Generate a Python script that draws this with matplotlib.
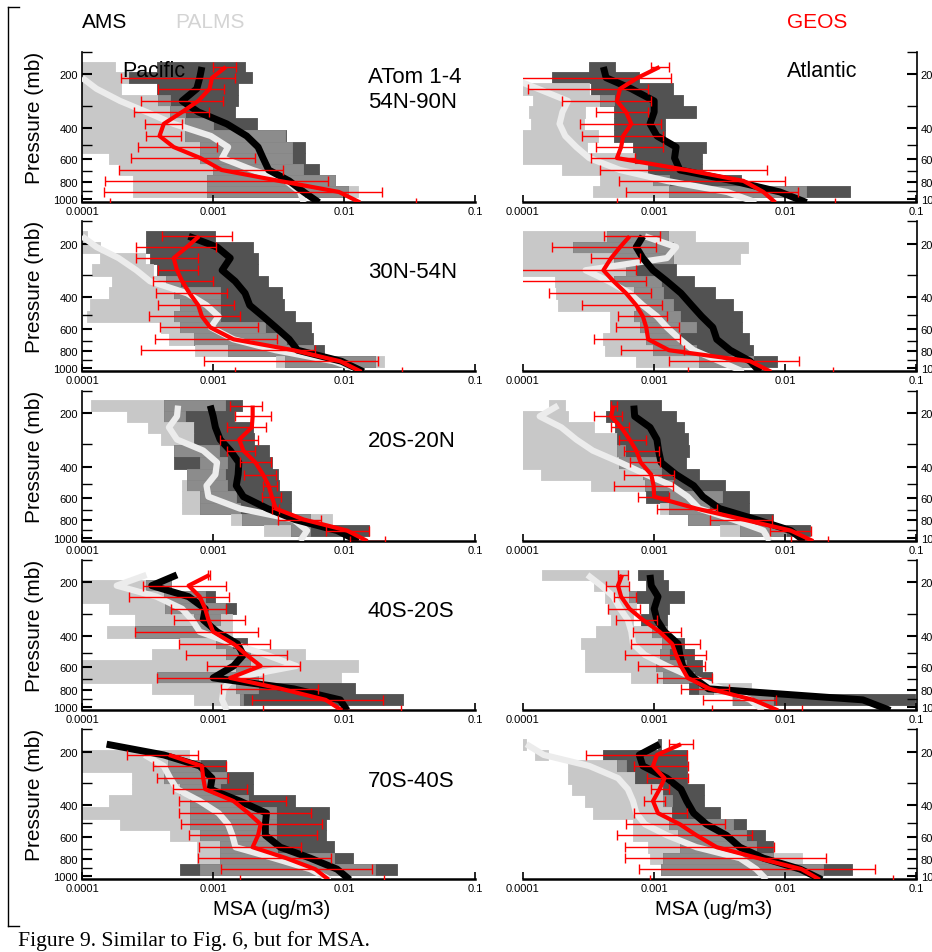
import numpy as np
import matplotlib
matplotlib.use('Agg')
import matplotlib.pyplot as plt
from matplotlib.lines import Line2D
from matplotlib.ticker import NullLocator, FixedLocator, NullFormatter

nan = np.nan

# pressure (mb) of the 12 bins; the 13th value is the surface end of the profiles
levels = [182, 209, 241, 282, 325, 379, 443, 511, 589, 687, 791, 912, 1045]

regions = ['ATom 1-4\n54N-90N', '30N-54N', '20S-20N', '40S-20S', '70S-40S']
x_ticks = [0.0001, 0.001, 0.01, 0.1]
x_labels = ['0.0001', '0.001', '0.01', '0.1']
p_ticks = [200, 400, 600, 800, 1000]
p_minor = [150, 300, 500, 700, 900]

# ---- Pacific 54N-90N
p1_ams_lo = [3.7e-4, 2.3e-4, 3.7e-4, 3.8e-4, 4.7e-4, 6.1e-4, 6.1e-4, 7.9e-4, 7.9e-4, 1.0e-3, 8.9e-4, 8.9e-4]
p1_ams_hi = [1.75e-3, 1.97e-3, 1.55e-3, 1.55e-3, 1.47e-3, 2.15e-3, 3.6e-3, 5.0e-3, 5.0e-3, 6.4e-3, 8.5e-3, 1.07e-2]
p1_pal_lo = [9e-5, 9e-5, 9e-5, 9e-5, 9e-5, 9e-5, 9e-5, 9e-5, 1.6e-4, 1.95e-4, 2.45e-4, 2.45e-4]
p1_pal_hi = [1.8e-4, 2.3e-4, 2.0e-4, 4.7e-4, 6.1e-4, 1.0e-3, 3.5e-3, 4.0e-3, 4.0e-3, 4.8e-3, 8.5e-3, 1.28e-2]
p1_ams = [8.2e-4, 7.9e-4, 7.5e-4, 5.8e-4, 7.7e-4, 1.27e-3, 1.8e-3, 2.2e-3, 2.4e-3, 2.65e-3, 3.8e-3, 4.9e-3, 6.4e-3]
p1_pal = [nan, 1.0e-4, 1.29e-4, 1.95e-4, 3.1e-4, 5.0e-4, 9.6e-4, 1.3e-3, 1.17e-3, 2.0e-3, 3.6e-3, 4.6e-3, 4.9e-3]
p1_geos = [1.25e-3, 9.8e-4, 9.4e-4, 7.7e-4, 5.8e-4, 4.2e-4, 3.9e-4, 5.0e-4, 8.0e-4, 1.16e-3, 3.2e-3, 9.1e-3, 1.32e-2]
p1_geos_lo = [1.0e-3, 2.0e-4, 3.8e-4, 2.8e-4, 2.5e-4, 3.0e-4, 3.1e-4, 2.65e-4, 2.35e-4, 1.9e-4, 1.5e-4, 1.48e-4, 1.63e-4]
p1_geos_hi = [1.5e-3, 1.47e-3, 1.22e-3, 1.18e-3, 9.3e-4, 5.8e-4, 5.7e-4, 1.07e-3, 2.07e-3, 3.4e-3, 7.5e-3, 1.95e-2, 3.5e-2]

# ---- Atlantic 54N-90N
a1_ams_lo = [3.2e-4, 1.65e-4, 3.3e-4, 3.85e-4, 4.9e-4, 4.9e-4, 4.9e-4, 6.9e-4, 7.1e-4, 9.0e-4, 9.8e-4, 1.3e-3]
a1_ams_hi = [5.0e-4, 7.6e-4, 1.4e-3, 1.65e-3, 2.1e-3, 1.2e-3, 1.2e-3, 2.5e-3, 2.3e-3, 2.3e-3, 4.6e-3, 3.1e-2]
a1_pal_lo = [nan, nan, 9e-5, 1.19e-4, 1.12e-4, 1.15e-4, 9e-5, 9e-5, 9e-5, 1.97e-4, 3.85e-4, 3.4e-4]
a1_pal_hi = [nan, nan, 3.2e-4, 4.9e-4, 2.95e-4, 2.9e-4, 3.75e-4, 3.05e-4, 7.1e-4, 9.0e-4, 1.3e-3, 1.44e-2]
a1_ams = [4.1e-4, 4.3e-4, 6.7e-4, 1.0e-3, 1.0e-3, 9.3e-4, 1.05e-3, 1.47e-3, 1.43e-3, 1.57e-3, 4.0e-3, 9.1e-3, 1.45e-2]
a1_pal = [nan, 8e-5, 1.3e-4, 2.2e-4, 2.0e-4, 1.9e-4, 2.1e-4, 2.55e-4, 3.2e-4, 5.5e-4, 1.25e-3, 3.6e-3, 6.0e-3]
a1_geos = [1.1e-3, 7.5e-4, 5.5e-4, 5.2e-4, 6.1e-4, 6.7e-4, 5.8e-4, 5.6e-4, 5.2e-4, 1.77e-3, 4.8e-3, 6.8e-3, 8.4e-3]
a1_geos_lo = [9.5e-4, 9e-5, 1.09e-4, 2.0e-4, 3.6e-4, 2.7e-4, 2.8e-4, 3.6e-4, 3.3e-4, 3.85e-4, 5.4e-4, 6.1e-4, 5.2e-4]
a1_geos_hi = [1.29e-3, 1.35e-3, 9.0e-4, 9.4e-4, 9.0e-4, 1.12e-3, 1.16e-3, 1.16e-3, 7.1e-4, 7.2e-3, 9.9e-3, 1.25e-2, 2.4e-2]

# ---- Pacific 30N-54N
p2_ams_lo = [3.1e-4, 3.1e-4, 3.3e-4, 3.7e-4, 4.4e-4, 5.0e-4, 5.6e-4, 5.0e-4, 5.6e-4, 7.2e-4, 1.3e-3, 3.5e-3]
p2_ams_hi = [1.03e-3, 2.0e-3, 2.2e-3, 2.2e-3, 2.6e-3, 3.35e-3, 3.45e-3, 4.2e-3, 5.6e-3, 5.8e-3, 7.0e-3, 1.7e-2]
p2_pal_lo = [9e-5, 9e-5, 1.37e-4, 1.2e-4, 1.7e-4, 1.6e-4, 1.15e-4, 1.1e-4, 4.0e-4, 4.6e-4, 7.3e-4, 3.0e-3]
p2_pal_hi = [1.1e-4, 1.37e-4, 3.0e-4, 3.5e-4, 5.6e-4, 1.13e-3, 1.13e-3, 1.13e-3, 2.5e-3, 3.6e-3, 5.8e-3, 2.0e-2]
p2_ams = [6.5e-4, 1.07e-3, 1.35e-3, 1.17e-3, 1.47e-3, 1.75e-3, 1.9e-3, 2.4e-3, 3.0e-3, 3.8e-3, 4.4e-3, 9.5e-3, 1.4e-2]
p2_pal = [1.0e-4, 1.29e-4, 1.9e-4, 2.6e-4, 3.3e-4, 6.3e-4, 8.9e-4, 1.1e-3, 9.6e-4, 1.43e-3, 3.0e-3, 8.3e-3, 1.4e-2]
p2_geos = [7.8e-4, 6.3e-4, 5.0e-4, 5.3e-4, 5.8e-4, 6.6e-4, 7.7e-4, 8.2e-4, 9.5e-4, 1.43e-3, 4.1e-3, 9.3e-3, 1.35e-2]
p2_geos_lo = [4.1e-4, 2.6e-4, 2.6e-4, 3.8e-4, 3.45e-4, 3.65e-4, 3.8e-4, 3.25e-4, 3.95e-4, 3.6e-4, 2.8e-4, 8.5e-4, 1.47e-3]
p2_geos_hi = [1.38e-3, 1.05e-3, 7.6e-4, 7.6e-4, 1.0e-3, 1.27e-3, 1.43e-3, 1.6e-3, 2.2e-3, 3.05e-3, 6.0e-3, 1.8e-2, 2.77e-2]

# ---- Atlantic 30N-54N
a2_ams_lo = [4.4e-4, 2.4e-4, 4.9e-4, 6.1e-4, 4.9e-4, 7.0e-4, 7.3e-4, 7.0e-4, 7.8e-4, 8.7e-4, 9.8e-4, 2.2e-3]
a2_ams_hi = [1.28e-3, 1.4e-3, 1.4e-3, 1.47e-3, 2.0e-3, 2.9e-3, 4.0e-3, 4.7e-3, 4.7e-3, 5.3e-3, 5.7e-3, 8.7e-3]
a2_pal_lo = [9e-5, 9e-5, 9e-5, 9e-5, 1.75e-4, 1.8e-4, 1.85e-4, 4.6e-4, 4.6e-4, 4.1e-4, 4.2e-4, 7.3e-4]
a2_pal_hi = [2.05e-3, 5.2e-3, 4.5e-3, 7.3e-4, 1.13e-3, 1.17e-3, 1.4e-3, 1.57e-3, 2.1e-3, 1.57e-3, 2.1e-3, 5.7e-3]
a2_ams = [8.2e-4, 7.3e-4, 8.2e-4, 9.8e-4, 1.25e-3, 1.6e-3, 1.93e-3, 2.3e-3, 2.8e-3, 3.0e-3, 3.8e-3, 5.4e-3, 6.4e-3]
a2_pal = [8.5e-4, 1.47e-3, 1.25e-3, 3.0e-4, 4.5e-4, 6.5e-4, 8.2e-4, 1.05e-3, 1.25e-3, 1.57e-3, 2.0e-3, 3.15e-3, 4.8e-3]
a2_geos = [6.5e-4, 5.5e-4, 4.7e-4, 4.1e-4, 4.9e-4, 6.1e-4, 7.3e-4, 8.2e-4, 8.7e-4, 9.0e-4, 1.3e-3, 5.4e-3, 7.8e-3]
a2_geos_lo = [4.15e-4, 1.67e-4, 3.3e-4, 9e-5, 9e-5, 1.57e-4, 2.8e-4, 5.3e-4, 5.1e-4, 3.5e-4, 5.6e-4, 1.3e-3, 1.8e-3]
a2_geos_hi = [1.1e-3, 1.03e-3, 7.85e-4, 7.3e-4, 8.6e-4, 9.4e-4, 1.15e-3, 1.25e-3, 1.55e-3, 1.57e-3, 1.7e-3, 1.28e-2, 2.3e-2]

# ---- Pacific 20S-20N
p3_ams_lo = [4.2e-4, 4.2e-4, 7.1e-4, 7.1e-4, 5.0e-4, 5.0e-4, 6.3e-4, 6.3e-4, 7.9e-4, 7.9e-4, 1.65e-3, 3.9e-3]
p3_ams_hi = [1.65e-3, 1.45e-3, 2.0e-3, 2.05e-3, 2.65e-3, 2.8e-3, 3.1e-3, 3.15e-3, 3.9e-3, 3.9e-3, 5.5e-3, 1.55e-2]
p3_pal_lo = [1.18e-4, 2.2e-4, 3.2e-4, 4.0e-4, 5.0e-4, 7.9e-4, 6.3e-4, 5.8e-4, 5.8e-4, 5.8e-4, 1.37e-3, 2.45e-3]
p3_pal_hi = [1.23e-3, 6.1e-4, 7.1e-4, 7.1e-4, 1.1e-3, 1.27e-3, 1.23e-3, 1.27e-3, 1.5e-3, 1.6e-3, 8.1e-3, 5.5e-3]
p3_ams = [9.5e-4, 1.0e-3, 1.04e-3, 1.13e-3, 1.35e-3, 1.57e-3, 1.55e-3, 1.5e-3, 1.7e-3, 2.6e-3, 4.2e-3, 8.8e-3, 1.28e-2]
p3_pal = [5.4e-4, 5.3e-4, 4.6e-4, 5.3e-4, 8.4e-4, 1.07e-3, 1.04e-3, 8.9e-4, 9.2e-4, 1.6e-3, 4.1e-3, 5.2e-3, 4.6e-3]
p3_geos = [2.0e-3, 2.0e-3, 1.97e-3, 1.58e-3, 1.7e-3, 2.1e-3, 2.4e-3, 2.65e-3, 2.8e-3, 3.0e-3, 4.9e-3, 1.05e-2, 1.5e-2]
p3_geos_lo = [1.35e-3, 1.47e-3, 1.27e-3, 1.13e-3, 1.28e-3, 1.6e-3, 1.73e-3, 2.4e-3, 2.35e-3, 2.8e-3, 3.1e-3, 7.2e-3, 1.1e-2]
p3_geos_hi = [2.35e-3, 2.75e-3, 2.55e-3, 2.2e-3, 2.1e-3, 2.75e-3, 3.0e-3, 3.05e-3, 3.3e-3, 3.2e-3, 6.6e-3, 1.55e-2, 2.05e-2]

# ---- Atlantic 20S-20N
a3_ams_lo = [4.6e-4, 4.3e-4, 5.0e-4, 5.2e-4, 5.2e-4, 5.4e-4, 8.2e-4, 8.5e-4, 8.7e-4, 1.3e-3, 1.8e-3, 4.5e-3]
a3_ams_hi = [1.13e-3, 1.47e-3, 1.7e-3, 1.8e-3, 1.85e-3, 1.75e-3, 2.2e-3, 3.45e-3, 5.3e-3, 5.3e-3, 8.1e-3, 1.55e-2]
a3_pal_lo = [1.58e-4, 9e-5, 9e-5, 9e-5, 9e-5, 9e-5, 1.38e-4, 3.3e-4, 1.3e-3, 1.1e-3, 1.8e-3, 3.15e-3]
a3_pal_hi = [2.1e-4, 2.2e-4, 3.5e-4, 5.2e-4, 6.0e-4, 1.13e-3, 1.13e-3, 1.4e-3, 3.3e-3, 2.6e-3, 5.3e-3, 1.02e-2]
a3_ams = [7.0e-4, 7.1e-4, 9.3e-4, 1.05e-3, 1.08e-3, 1.13e-3, 1.47e-3, 2.0e-3, 2.35e-3, 3.15e-3, 6.0e-3, 1.1e-2, 1.4e-2]
a3_pal = [1.85e-4, 1.34e-4, 1.96e-4, 2.55e-4, 3.4e-4, 5.5e-4, 8.7e-4, 1.36e-3, 1.8e-3, 2.2e-3, 4.0e-3, 6.8e-3, 7.6e-3]
a3_geos = [4.9e-4, 4.7e-4, 5.6e-4, 6.5e-4, 7.3e-4, 7.9e-4, 9.5e-4, 9.9e-4, 1.0e-3, 2.1e-3, 4.8e-3, 1.1e-2, 1.63e-2]
a3_geos_lo = [4.7e-4, 3.5e-4, 4.7e-4, 5.4e-4, 5.9e-4, 6.5e-4, 5.9e-4, 4.9e-4, 7.5e-4, 1.06e-3, 2.65e-3, 7.7e-3, 1.1e-2]
a3_geos_hi = [5.2e-4, 5.7e-4, 6.4e-4, 8.6e-4, 1.09e-3, 1.11e-3, 1.42e-3, 1.38e-3, 1.3e-3, 3.0e-3, 7.9e-3, 1.57e-2, 2.1e-2]

# ---- Pacific 40S-20S
p4_ams_lo = [nan, 3.1e-4, 4.2e-4, 4.3e-4, 7.1e-4, 2.55e-4, 1.05e-3, 1.25e-3, 1.5e-3, 3.7e-4, 1.5e-3, 1.6e-3]
p4_ams_hi = [nan, 4.8e-4, 1.03e-3, 1.5e-3, 1.13e-3, 1.0e-3, 1.8e-3, 1.9e-3, 1.9e-3, 2.2e-3, 1.2e-2, 2.8e-2]
p4_pal_lo = [nan, 9e-5, 9e-5, 1.6e-4, 2.55e-4, 1.55e-4, 5.6e-4, 3.4e-4, 9e-5, 9e-5, 3.4e-4, 7.1e-4]
p4_pal_hi = [nan, 4.8e-4, 8.7e-4, 1.24e-3, 1.4e-3, 1.4e-3, 1.4e-3, 5.0e-3, 1.28e-2, 9.5e-3, 2.2e-3, 1.7e-3]
p4_ams = [5.3e-4, 3.4e-4, 6.5e-4, 8.7e-4, 8.4e-4, 1.07e-3, 1.53e-3, 1.7e-3, 1.43e-3, 1.0e-3, 4.1e-3, 9.3e-3, 1.05e-2]
p4_pal = [3.1e-4, 1.84e-4, 3.7e-4, 5.8e-4, 6.9e-4, 7.9e-4, 1.43e-3, 2.55e-3, 4.3e-3, 1.43e-3, 1.2e-3, 1.17e-3, 1.27e-3]
p4_geos = [9.4e-4, 6.5e-4, 7.9e-4, 8.7e-4, 9.2e-4, 1.0e-3, 1.43e-3, 1.8e-3, 2.3e-3, 1.35e-3, 3.3e-3, 7.2e-3, 9.6e-3]
p4_geos_lo = [9.2e-4, 2.9e-4, 2.3e-4, 4.75e-4, 5.0e-4, 2.55e-4, 5.5e-4, 6.2e-4, 8.9e-4, 3.7e-4, 1.14e-3, 1.97e-3, 2.4e-3]
p4_geos_hi = [9.5e-4, 1.25e-3, 1.32e-3, 1.25e-3, 1.75e-3, 2.2e-3, 2.7e-3, 3.65e-3, 4.6e-3, 2.4e-3, 6.3e-3, 1.98e-2, 2.7e-2]

# ---- Atlantic 40S-20S
a4_ams_lo = [7.5e-4, 8.6e-4, 6.4e-4, 9.1e-4, 8.0e-4, 9.6e-4, 1.15e-3, 1.1e-3, 1.03e-3, 1.17e-3, 1.85e-3, 4.0e-3]
a4_ams_hi = [1.17e-3, 1.28e-3, 1.7e-3, 1.3e-3, 1.25e-3, 1.25e-3, 1.7e-3, 2.0e-3, 2.3e-3, 2.75e-3, 2.8e-3, 9.8e-2]
a4_pal_lo = [1.4e-4, 3.5e-4, 4.2e-4, 4.45e-4, 4.7e-4, 3.6e-4, 2.75e-4, 2.95e-4, 2.95e-4, 6.7e-4, 2.2e-3, 3.9e-3]
a4_pal_hi = [6.3e-4, 6.3e-4, 7.3e-4, 7.3e-4, 6.9e-4, 1.25e-3, 1.4e-3, 1.3e-3, 1.75e-3, 2.0e-3, 5.5e-3, 8.1e-3]
a4_ams = [9.3e-4, 9.5e-4, 1.07e-3, 1.0e-3, 1.05e-3, 1.2e-3, 1.52e-3, 1.57e-3, 1.65e-3, 2.0e-3, 2.6e-3, 3.9e-2, 6.3e-2]
a4_pal = [3.1e-4, 3.95e-4, 4.9e-4, 5.5e-4, 6.3e-4, 6.7e-4, 6.9e-4, 8.5e-4, 1.25e-3, 2.0e-3, 3.3e-3, 5.4e-3, 6.8e-3]
a4_geos = [5.7e-4, 5.3e-4, 5.6e-4, 6.5e-4, 8.2e-4, 1.1e-3, 1.37e-3, 1.47e-3, 1.6e-3, 1.8e-3, 2.65e-3, 5.7e-3, 8.8e-3]
a4_geos_lo = [5.3e-4, 4.3e-4, 4.9e-4, 4.45e-4, 5.1e-4, 6.9e-4, 6.7e-4, 6.0e-4, 7.5e-4, 1.05e-3, 1.6e-3, 2.35e-3, 2.75e-3]
a4_geos_hi = [6.3e-4, 6.4e-4, 7.3e-4, 7.85e-4, 1.05e-3, 1.6e-3, 2.25e-3, 2.5e-3, 2.45e-3, 2.75e-3, 3.75e-3, 8.5e-3, 1.35e-2]

# ---- Pacific 70S-40S
p5_ams_lo = [nan, nan, 4.5e-4, 4.2e-4, 5.6e-4, 6.7e-4, 6.7e-4, 6.7e-4, 7.9e-4, 1.12e-3, 1.12e-3, 5.6e-4]
p5_ams_hi = [nan, nan, 1.26e-3, 2.0e-3, 2.0e-3, 4.2e-3, 7.6e-3, 7.3e-3, 7.3e-3, 8.3e-3, 1.16e-2, 2.5e-2]
p5_pal_lo = [nan, 9e-5, 9e-5, 2.4e-4, 2.4e-4, 1.6e-4, 9e-5, 1.95e-4, 4.7e-4, 7.5e-4, 7.5e-4, 7.9e-4]
p5_pal_hi = [nan, 6.6e-4, 7.9e-4, 1.26e-3, 1.13e-3, 1.85e-3, 3.0e-3, 3.0e-3, 3.0e-3, 3.05e-3, 8.3e-3, 1.7e-2]
p5_ams = [1.54e-4, 4.2e-4, 7.9e-4, 9.8e-4, 9.5e-4, 1.6e-3, 2.55e-3, 2.5e-3, 2.5e-3, 3.25e-3, 5.5e-3, 8.8e-3, 1.1e-2]
p5_pal = [nan, 3.0e-4, 4.2e-4, 4.7e-4, 5.3e-4, 7.9e-4, 1.1e-3, 1.3e-3, 1.4e-3, 1.48e-3, 2.9e-3, 5.5e-3, 7.8e-3]
p5_geos = [nan, 4.6e-4, 8.2e-4, 8.4e-4, 8.7e-4, 1.43e-3, 1.86e-3, 2.3e-3, 2.2e-3, 2.0e-3, 3.6e-3, 6.0e-3, 7.6e-3]
p5_geos_lo = [nan, 2.2e-4, 3.45e-4, 3.7e-4, 4.9e-4, 5.5e-4, 5.5e-4, 5.7e-4, 6.5e-4, 7.8e-4, 7.6e-4, 1.14e-3, 1.6e-3]
p5_geos_hi = [nan, 7.7e-4, 1.26e-3, 1.29e-3, 1.8e-3, 3.6e-3, 5.6e-3, 6.7e-3, 6.2e-3, 4.7e-3, 7.9e-3, 1.62e-2, 2.0e-2]

# ---- Atlantic 70S-40S
a5_ams_lo = [1.07e-3, 4.1e-4, 5.2e-4, 7.1e-4, 1.16e-3, 1.17e-3, 1.36e-3, 1.3e-3, 1.52e-3, 1.57e-3, 1.17e-3, 1.13e-3]
a5_ams_hi = [1.13e-3, 1.77e-3, 1.77e-3, 1.77e-3, 2.4e-3, 2.4e-3, 3.15e-3, 5.0e-3, 7.0e-3, 8.1e-3, 8.1e-3, 3.2e-2]
a5_pal_lo = [9e-5, 1.23e-4, 2.2e-4, 2.2e-4, 2.35e-4, 2.95e-4, 3.4e-4, 6.9e-4, 6.9e-4, 9.0e-4, 9.3e-4, 1.13e-3]
a5_pal_hi = [1.06e-4, 1.55e-4, 6.1e-4, 7.1e-4, 1.16e-3, 1.36e-3, 1.36e-3, 4.0e-3, 5.0e-3, 6.0e-3, 1.35e-2, 1.95e-2]
a5_ams = [1.1e-3, 7.7e-4, 8.2e-4, 1.25e-3, 1.6e-3, 1.77e-3, 2.0e-3, 2.5e-3, 3.55e-3, 4.5e-3, 6.8e-3, 1.3e-2, 1.9e-2]
a5_pal = [1.06e-4, 1.44e-4, 3.2e-4, 5.3e-4, 6.3e-4, 6.9e-4, 7.3e-4, 8.5e-4, 1.25e-3, 2.1e-3, 4.5e-3, 6.0e-3, 7.2e-3]
a5_geos = [1.6e-3, 1.05e-3, 9.8e-4, 1.2e-3, 1.1e-3, 9.8e-4, 1.07e-3, 1.57e-3, 2.1e-3, 3.0e-3, 6.2e-3, 1.33e-2, 1.83e-2]
a5_geos_lo = [1.3e-3, 3.0e-4, 7.0e-4, 8.8e-4, 9.5e-4, 8.3e-4, 7.0e-4, 6.1e-4, 5.2e-4, 6.0e-4, 6.0e-4, 7.7e-4, 9.3e-4]
a5_geos_hi = [1.96e-3, 1.79e-3, 1.8e-3, 1.8e-3, 1.3e-3, 1.2e-3, 1.78e-3, 3.45e-3, 5.6e-3, 8.2e-3, 2.05e-2, 4.8e-2, 6.6e-2]

panels = [
    (p1_ams_lo, p1_ams_hi, p1_pal_lo, p1_pal_hi, p1_ams, p1_pal, p1_geos, p1_geos_lo, p1_geos_hi),
    (a1_ams_lo, a1_ams_hi, a1_pal_lo, a1_pal_hi, a1_ams, a1_pal, a1_geos, a1_geos_lo, a1_geos_hi),
    (p2_ams_lo, p2_ams_hi, p2_pal_lo, p2_pal_hi, p2_ams, p2_pal, p2_geos, p2_geos_lo, p2_geos_hi),
    (a2_ams_lo, a2_ams_hi, a2_pal_lo, a2_pal_hi, a2_ams, a2_pal, a2_geos, a2_geos_lo, a2_geos_hi),
    (p3_ams_lo, p3_ams_hi, p3_pal_lo, p3_pal_hi, p3_ams, p3_pal, p3_geos, p3_geos_lo, p3_geos_hi),
    (a3_ams_lo, a3_ams_hi, a3_pal_lo, a3_pal_hi, a3_ams, a3_pal, a3_geos, a3_geos_lo, a3_geos_hi),
    (p4_ams_lo, p4_ams_hi, p4_pal_lo, p4_pal_hi, p4_ams, p4_pal, p4_geos, p4_geos_lo, p4_geos_hi),
    (a4_ams_lo, a4_ams_hi, a4_pal_lo, a4_pal_hi, a4_ams, a4_pal, a4_geos, a4_geos_lo, a4_geos_hi),
    (p5_ams_lo, p5_ams_hi, p5_pal_lo, p5_pal_hi, p5_ams, p5_pal, p5_geos, p5_geos_lo, p5_geos_hi),
    (a5_ams_lo, a5_ams_hi, a5_pal_lo, a5_pal_hi, a5_ams, a5_pal, a5_geos, a5_geos_lo, a5_geos_hi),
]

LIGHT = '#c8c8c8'
MEDIUM = '#8c8c8c'
DARK = '#525252'
WHITE_LINE = '#ececec'

plt.rcParams['font.family'] = ['Liberation Sans', 'DejaVu Sans']

W, H = 932, 953
fig = plt.figure(figsize=(W / 100, H / 100), dpi=100)

# bin edges (geometric midpoints between the levels)
lv = np.array(levels[:12], dtype=float)
mids = np.sqrt(lv[:-1] * lv[1:])
tops = np.concatenate([[lv[0] ** 2 / mids[0]], mids])
bots = np.concatenate([mids, [lv[-1] ** 2 / mids[-1]]])


def box(ax, y0, y1, lo, hi, color):
    ax.fill_betweenx([y0, y1], lo, hi, color=color, lw=0.6, edgecolor=color, zorder=1)


def draw_panel(ax, d):
    ams_lo, ams_hi, pal_lo, pal_hi, ams, pal, geos, g_lo, g_hi = [np.array(a, dtype=float) for a in d]
    for i in range(12):
        if not np.isnan(pal_lo[i]):
            box(ax, tops[i], bots[i], pal_lo[i], pal_hi[i], LIGHT)
        if not np.isnan(ams_lo[i]):
            box(ax, tops[i], bots[i], ams_lo[i], ams_hi[i], DARK)
        if not (np.isnan(pal_lo[i]) or np.isnan(ams_lo[i])):
            lo = max(pal_lo[i], ams_lo[i])
            hi = min(pal_hi[i], ams_hi[i])
            if lo < hi:
                box(ax, tops[i], bots[i], lo, hi, MEDIUM)
    p = np.array(levels, dtype=float)
    ax.plot(pal, p, color=WHITE_LINE, lw=4.5, zorder=3, solid_capstyle='butt')
    ax.plot(ams, p, color='black', lw=5, zorder=4, solid_capstyle='butt')
    ok = ~np.isnan(geos)
    ax.errorbar(geos[ok], p[ok], xerr=[geos[ok] - g_lo[ok], g_hi[ok] - geos[ok]], fmt='none',
                ecolor='red', elinewidth=1, capsize=3.5, capthick=1, zorder=5)
    ax.plot(geos, p, color='red', lw=3, zorder=6, solid_capstyle='butt')


for r in range(5):
    for c in range(2):
        top_px = 53 + 169.3 * r
        left_px = 82 if c == 0 else 523
        ax = fig.add_axes([left_px / W, 1 - (top_px + 150) / H, 393.5 / W, 150 / H])
        draw_panel(ax, panels[2 * r + c])
        ax.set_xscale('log')
        ax.set_yscale('log')
        ax.set_xlim(1e-4, 0.1)
        ax.set_ylim(1038, 150)
        ax.set_xticks(x_ticks)
        ax.set_xticklabels(x_labels)
        ax.xaxis.set_minor_locator(NullLocator())
        ax.yaxis.set_major_locator(FixedLocator(p_ticks))
        ax.yaxis.set_minor_locator(FixedLocator(p_minor))
        ax.yaxis.set_minor_formatter(NullFormatter())
        ax.set_yticklabels([str(t) for t in p_ticks])
        ax.tick_params(axis='x', direction='in', length=5, width=1.2, labelsize=8, pad=3)
        ax.tick_params(axis='y', which='major', direction='in', length=7, width=1.5, labelsize=8, pad=3)
        ax.tick_params(axis='y', which='minor', direction='in', length=7, width=1.0)
        ax.spines['top'].set_visible(False)
        ax.spines['bottom'].set_linewidth(1.8)
        if c == 0:
            ax.spines['right'].set_visible(False)
            ax.spines['left'].set_linewidth(1.2)
            fig.text(35 / W, 1 - (top_px + 65) / H, 'Pressure (mb)', rotation=90,
                     ha='center', va='center', fontsize=15)
        else:
            ax.spines['left'].set_visible(False)
            ax.spines['right'].set_linewidth(1.2)
            ax.yaxis.tick_right()
            ax.tick_params(axis='y', which='both', labelright=True, labelleft=False)

# region labels
fig.text(368 / W, 1 - 83 / H, 'ATom 1-4', fontsize=16, va='baseline')
fig.text(368 / W, 1 - 108 / H, '54N-90N', fontsize=16, va='baseline')
for r, base in zip(range(1, 5), [278, 447, 617, 787]):
    fig.text(368 / W, 1 - base / H, regions[r], fontsize=16, va='baseline')

fig.text(122 / W, 1 - 77 / H, 'Pacific', fontsize=15.5, va='baseline', zorder=10)
fig.text(787 / W, 1 - 77 / H, 'Atlantic', fontsize=15.5, va='baseline', zorder=10)

fig.text(82 / W, 1 - 28 / H, 'AMS', fontsize=15, va='baseline', color='black')
fig.text(175 / W, 1 - 28 / H, 'PALMS', fontsize=15, va='baseline', color='#d4d4d4')
fig.text(787 / W, 1 - 28 / H, 'GEOS', fontsize=15, va='baseline', color='red')

fig.text(272 / W, 1 - 915 / H, 'MSA (ug/m3)', fontsize=14.5, ha='center', va='baseline')
fig.text(714 / W, 1 - 915 / H, 'MSA (ug/m3)', fontsize=14.5, ha='center', va='baseline')

fig.text(18 / W, 1 - 946 / H, 'Figure 9. Similar to Fig. 6, but for MSA.', fontsize=15.6,
         family='Liberation Serif', va='baseline')

# bracket on the left side of the figure
for xs, ys in [([7.5, 7.5], [8, 927]), ([7.5, 19], [8, 8]), ([7.5, 19], [927, 927])]:
    fig.add_artist(Line2D([x / W for x in xs], [1 - y / H for y in ys], color='black', lw=1.0))

fig.savefig('out.png', dpi=100)
